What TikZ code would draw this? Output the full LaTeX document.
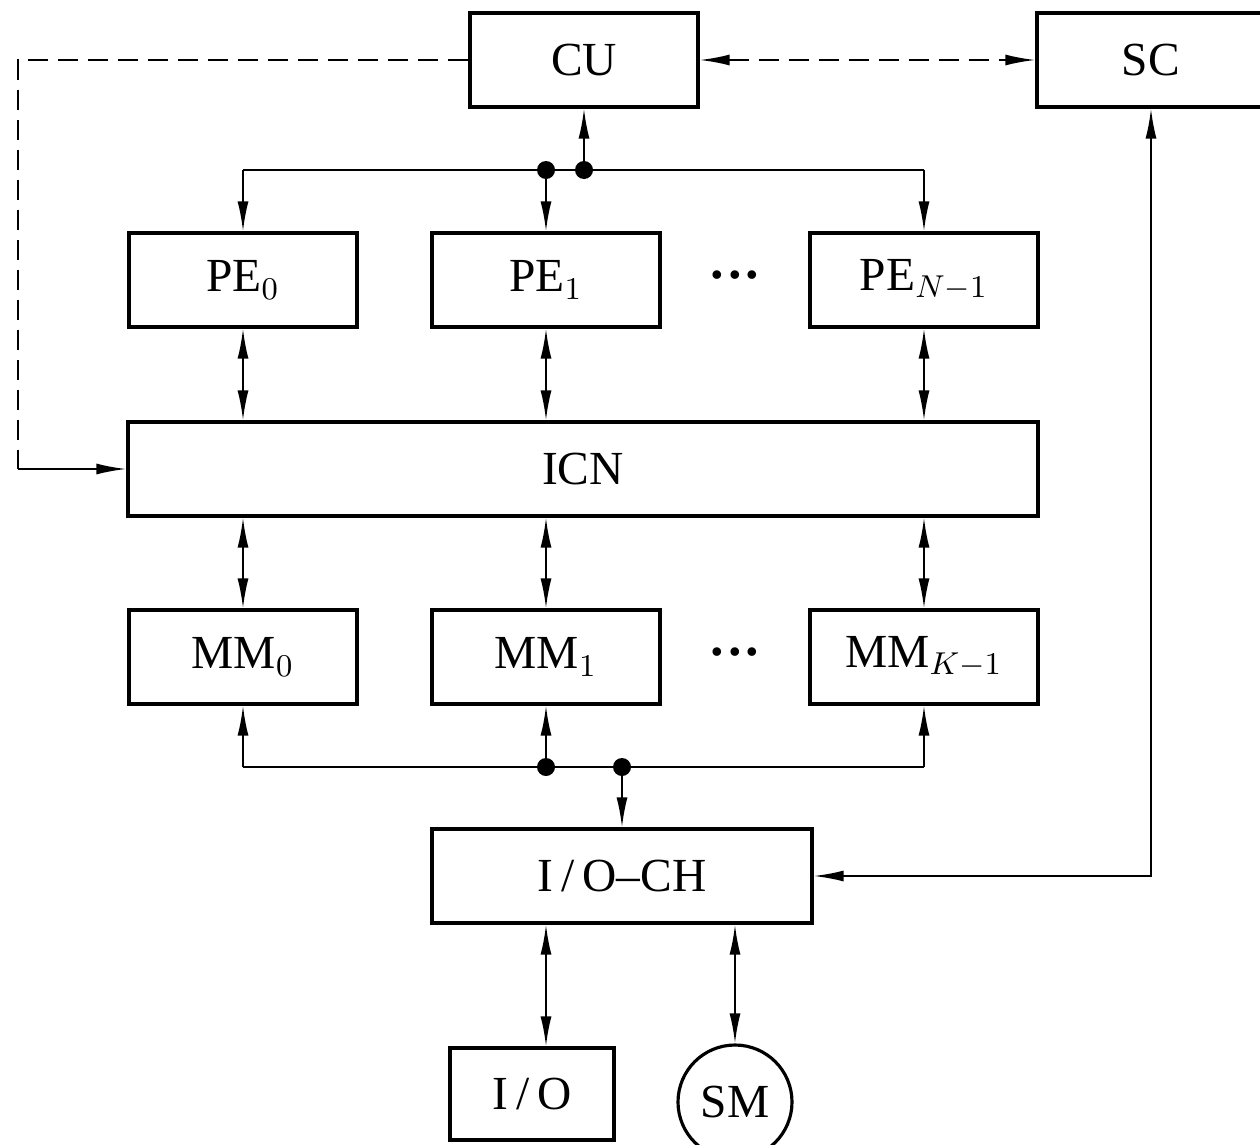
\documentclass[tikz,border=0pt]{standalone}
\usepackage{fontspec}
\setmainfont{Liberation Serif}
\usetikzlibrary{arrows.meta}
\begin{document}
\begin{tikzpicture}[x=0.1mm, y=-0.1mm, line width=0.6pt, >={Latex[length=3mm,width=1.1mm]},
  unit/.style={draw, line width=0.9pt, minimum width=22.8mm, minimum height=9.4mm, inner sep=0pt, font=\fontsize{13.5}{15}\selectfont},
  junct/.style={circle, fill, inner sep=0pt, minimum size=1.8mm},
  gap/.style={font=\fontsize{15}{15}\selectfont\bfseries},
  ctl/.style={dash pattern=on 2mm off 1mm}]
\useasboundingbox (0,0) rectangle (1260,1145);
\node[unit] (cu) at (584,60) {CU};
\node[unit] (sc) at (1151,60) {SC};
\node[unit] (pe0) at (243,280) {PE$_0$};
\node[unit] (pe1) at (546,280) {PE$_1$};
\node[unit] (pen) at (924,280) {PE$_{N-1}$};
\node[gap] (pedots) at (735,282) {···};
\node[unit, minimum width=91mm] (icn) at (583,469) {ICN};
\node[unit] (mm0) at (243,657) {MM$_0$};
\node[unit] (mm1) at (546,657) {MM$_1$};
\node[unit] (mmk) at (924,657) {MM$_{K-1}$};
\node[gap] (mmdots) at (735,659) {···};
\node[unit, minimum width=38mm] (ioch) at (622,876) {I\,/\,O--CH};
\node[unit, minimum width=16.4mm, minimum height=9.2mm] (io) at (532,1094) {I\,/\,O};
\node[unit, circle, minimum width=11.4mm, minimum height=11.4mm] (sm) at (735,1102) {SM};
\coordinate (tl) at (243,170);
\coordinate (tr) at (924,170);
\coordinate (tj1) at (546,170);
\coordinate (tj2) at (584,170);
\coordinate (bl) at (243,767);
\coordinate (br) at (924,767);
\coordinate (bj1) at (546,767);
\coordinate (bj2) at (622,767);
\coordinate (cl) at (18,60);
\coordinate (cb) at (18,469);
\coordinate (scturn) at (1151,876);
\draw[ctl] (cu.west) -- (cl) -- (cb);
\draw[->] (cb) -- (icn.west);
\draw[<->, ctl] (cu.east) -- (sc.west);
\draw (tl) -- (tr);
\draw[->] (tj2) -- (cu.south);
\draw[->] (tl) -- (pe0.north);
\draw[->] (tj1) -- (pe1.north);
\draw[->] (tr) -- (pen.north);
\node[junct] at (tj1) {};
\node[junct] at (tj2) {};
\draw[<->] (pe0.south) -- (pe0.south |- icn.north);
\draw[<->] (pe1.south) -- (pe1.south |- icn.north);
\draw[<->] (pen.south) -- (pen.south |- icn.north);
\draw[<->] (mm0.north |- icn.south) -- (mm0.north);
\draw[<->] (mm1.north |- icn.south) -- (mm1.north);
\draw[<->] (mmk.north |- icn.south) -- (mmk.north);
\draw (bl) -- (br);
\draw[->] (bl) -- (mm0.south);
\draw[->] (bj1) -- (mm1.south);
\draw[->] (br) -- (mmk.south);
\draw[->] (bj2) -- (ioch.north);
\node[junct] at (bj1) {};
\node[junct] at (bj2) {};
\draw[<->] (ioch.east) -- (scturn) -- (sc.south);
\draw[<->] (ioch.south -| mm1.south) -- (io.north -| mm1.south);
\draw[<->] (ioch.south -| sm.north) -- (sm.north);
\end{tikzpicture}
\end{document}
